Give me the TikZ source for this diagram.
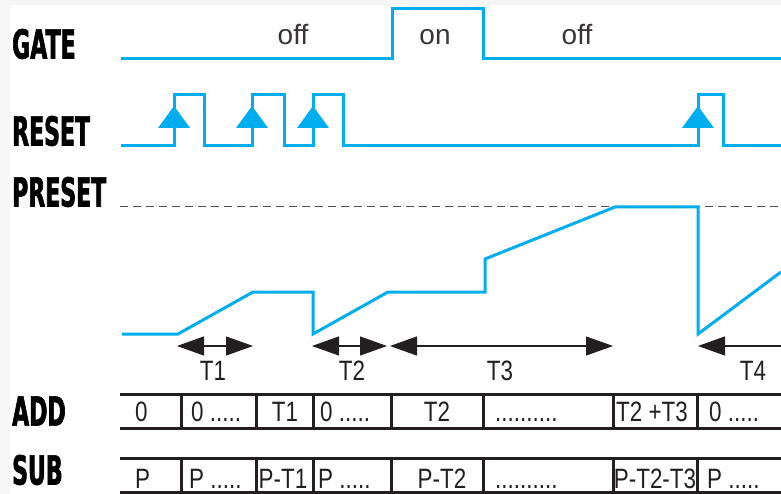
\documentclass[tikz,border=0pt]{standalone}
\usepackage{fontspec}
\setmainfont{Liberation Sans}
\newfontfamily\narrowfont[FakeStretch=0.8]{Liberation Sans}
\newfontfamily\headfont[FakeStretch=0.55,FakeBold=1.6]{DejaVu Sans}
\usetikzlibrary{arrows.meta,positioning}
\definecolor{sigblue}{HTML}{00AEEF}
\definecolor{ink}{HTML}{231F20}

\tikzset{
  signal/.style={sigblue, line width=3pt, line join=miter},
  siglabel/.style={anchor=west, inner sep=0pt, text=black, font=\headfont\bfseries\fontsize{40}{40}\selectfont},
  statelbl/.style={anchor=base, inner sep=0pt, text=ink!90, font=\fontsize{28}{28}\selectfont},
  cellw/.style={anchor=base west, inner sep=0pt, text=ink, font=\narrowfont\fontsize{28}{28}\selectfont},
  cellc/.style={anchor=base, inner sep=0pt, text=ink, font=\narrowfont\fontsize{28}{28}\selectfont},
  timespan/.style={ink, line width=1.2pt, {Triangle[length=27pt,width=19pt]}-{Triangle[length=27pt,width=19pt]}},
  rowline/.style={ink, line width=3pt}
}

\begin{document}
\begin{tikzpicture}[x=1pt, y=-1pt]
% frame of the picture
\fill[gray!7] (0,0) rectangle (781,494);
\fill[white] (10,5) rectangle (781,494);
\useasboundingbox (0,0) rectangle (781,494);
% signal names
\node[siglabel] (gate) at (12,44) {GATE};
\node[siglabel] (reset) at (12,131) {RESET};
\node[siglabel] (preset) at (12,192) {PRESET};
\node[siglabel] (add) at (12,411) {ADD};
\node[siglabel] (sub) at (12,470) {SUB};
% gate
\draw[signal] (121,59) -- (392,59) -- (392,9) -- (483,9) -- (483,59) -- (781,59);
\node[statelbl] (off1) at (293,45) {off};
\node[statelbl] (on) at (435,45) {on};
\node[statelbl] (off2) at (577,45) {off};
% reset pulses
\draw[signal] (121,146) -- (174,146) -- (174,95) -- (204,95) -- (204,146)
  -- (252,146) -- (252,95) -- (284,95) -- (284,146)
  -- (313,146) -- (313,95) -- (343,95) -- (343,146)
  -- (698,146) -- (698,95) -- (723,95) -- (723,146) -- (781,146);
\foreach \t in {174,252,313,698}
  \fill[sigblue] (\t-16,128) -- (\t,106) -- (\t+16,128) -- cycle;
% preset level
\draw[ink!80, line width=1pt, dash pattern=on 8pt off 5pt] (120,207) -- (781,207);
% counter value
\draw[signal] (122,334) -- (178,334) -- (253,292) -- (313,292) -- (313,334)
  -- (388,292) -- (485,292) -- (485,259) -- (615,207) -- (698,207)
  -- (698,334) -- (781,272);
% time spans
\draw[timespan] (177,346) -- (253,346);
\draw[timespan] (312,346) -- (387,346);
\draw[timespan] (390,346) -- (613,346);
\draw[ink, line width=1.2pt, {Triangle[length=27pt,width=19pt]}-] (698,346) -- (781,346);
\node[cellc] (t1) at (213,380) {T1};
\node[cellc] (t2) at (352,380) {T2};
\node[cellc] (t3) at (500,380) {T3};
\node[cellc] (t4) at (753,380) {T4};
% add and sub registers
\foreach \r in {394,428,458,492}
  \draw[rowline] (120,\r) -- (781,\r);
\foreach \d in {181,256,313,391,483,613,697} {
  \draw[rowline] (\d,394) -- (\d,428);
  \draw[rowline] (\d,458) -- (\d,492);
}
\node[cellw] (a1) at (135,421) {0};
\node[cellw] (a2) at (191,421) {0 .....};
\node[cellc] (a3) at (285,421) {T1};
\node[cellw] (a4) at (320,421) {0 .....};
\node[cellc] (a5) at (437,421) {T2};
\node[cellw] (a6) at (495,421) {..........};
\node[cellc] (a7) at (652,421) {T2 +T3};
\node[cellw] (a8) at (709,421) {0 .....};
\node[cellw] (s1) at (135,488) {P};
\node[cellw] (s2) at (189,488) {P .....};
\node[cellc] (s3) at (283,488) {P-T1};
\node[cellw] (s4) at (318,488) {P .....};
\node[cellc] (s5) at (442,488) {P-T2};
\node[cellw] (s6) at (495,488) {..........};
\node[cellc] (s7) at (655,488) {P-T2-T3};
\node[cellw] (s8) at (707,488) {P .....};
\end{tikzpicture}
\end{document}
